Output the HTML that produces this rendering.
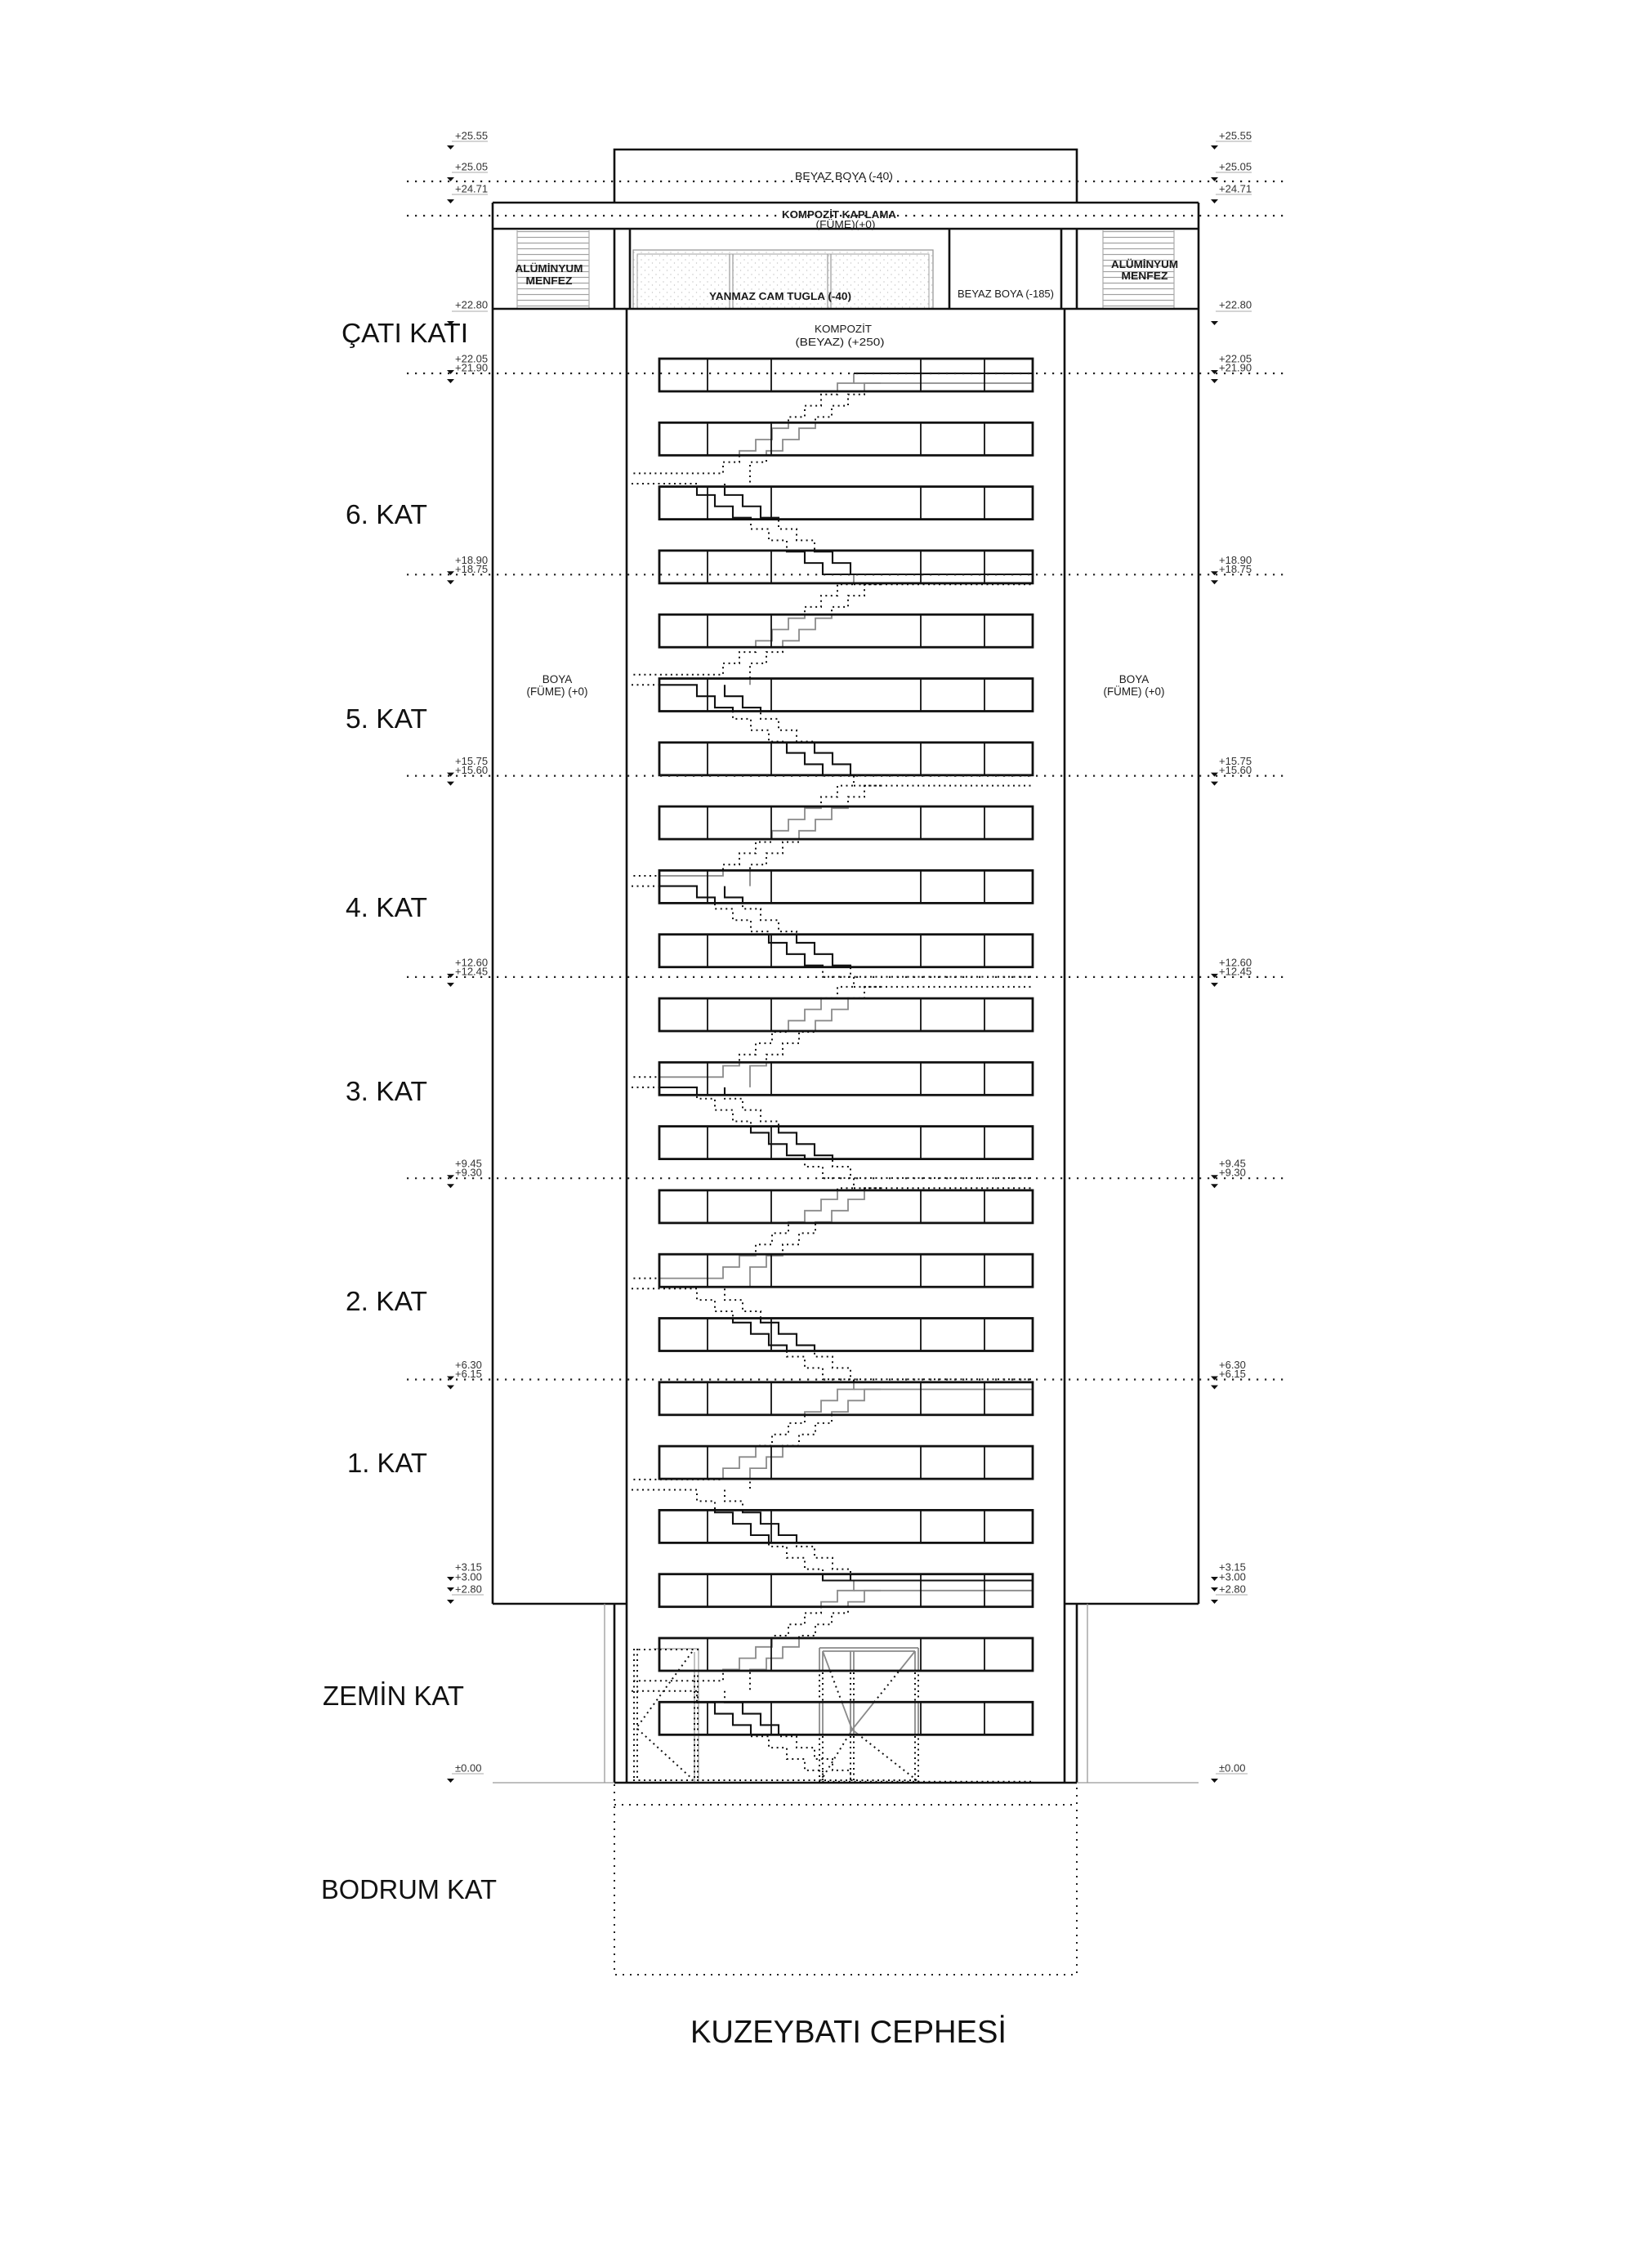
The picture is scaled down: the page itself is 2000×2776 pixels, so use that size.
<!DOCTYPE html>
<html><head><meta charset="utf-8"><style>html,body{margin:0;padding:0;background:#fff}svg{display:block}</style></head><body>
<svg xmlns="http://www.w3.org/2000/svg" xmlns:xlink="http://www.w3.org/1999/xlink" width="2000" height="2776" viewBox="0 0 2000 2776" font-family="'Liberation Sans', sans-serif">
<defs>
<pattern id="st" width="9" height="9" patternUnits="userSpaceOnUse"><circle cx="2" cy="3" r="0.7" fill="#c4c4c4"/><circle cx="6.5" cy="7" r="0.7" fill="#c4c4c4"/></pattern>
<pattern id="hl" width="10" height="7" patternUnits="userSpaceOnUse"><line x1="0" y1="3.5" x2="10" y2="3.5" stroke="#a0a0a0" stroke-width="1.2"/></pattern>
<rect id="wr" x="807" y="0" width="457" height="40"/>
<g id="wrs">
<use href="#wr" y="439"/><use href="#wr" y="517.3"/><use href="#wr" y="595.6"/><use href="#wr" y="673.9"/><use href="#wr" y="752.2"/><use href="#wr" y="830.5"/><use href="#wr" y="908.8"/><use href="#wr" y="987.1"/><use href="#wr" y="1065.4"/><use href="#wr" y="1143.7"/><use href="#wr" y="1222"/><use href="#wr" y="1300.3"/><use href="#wr" y="1378.6"/><use href="#wr" y="1456.9"/><use href="#wr" y="1535.2"/><use href="#wr" y="1613.5"/><use href="#wr" y="1691.8"/><use href="#wr" y="1770.1"/><use href="#wr" y="1848.4"/><use href="#wr" y="1926.7"/><use href="#wr" y="2005"/><use href="#wr" y="2083.3"/>
</g>
<mask id="mIn" maskUnits="userSpaceOnUse" x="0" y="0" width="2000" height="2776"><rect x="0" y="0" width="2000" height="2776" fill="#000"/><use href="#wrs" fill="#fff"/></mask>
<mask id="mOut" maskUnits="userSpaceOnUse" x="0" y="0" width="2000" height="2776"><rect x="0" y="0" width="2000" height="2776" fill="#000"/><rect x="769" y="379" width="532" height="1802" fill="#fff"/><use href="#wrs" fill="#000"/></mask>
<g id="win" fill="none" stroke="#111"><rect x="807" y="0" width="457" height="40" stroke-width="2.8"/><path d="M866 0V40M944 0V40M1127 0V40M1205 0V40" stroke-width="1.8"/></g>
<path id="pA" d="M1045 0V12h-20v13.8h-20v13.8h-20v13.8h-20v13.8h-20v13.8h-20v13.8h-20v13.8h-20v13.8H773"/>
<path id="pB" d="M1078 12h-20v13.8h-20v13.8h-20v13.8h-20v13.8h-20v13.8h-20v13.8h-20v13.8h-20v13.8V135"/>
<path id="pS" d="M1045 12H1264"/>
<path id="pC" d="M773 135H853v13.875h22v13.875h22v13.875h22v13.875h22v13.875h22v13.875h22v13.875h22v13.875h22H1264"/>
<path id="pD" d="M887 135v13.875h22v13.875h22v13.875h22v13.875h22v13.875h22v13.875h22v13.875h22v13.875"/>
<g id="flUp"><use href="#pA"/><use href="#pB"/><use href="#pS"/></g>
<g id="flLo"><use href="#pC"/><use href="#pD"/></g>
<path id="door" d="M1003 2017V2182M1007 2021V2182M1120 2021V2182M1124 2017V2182M1003 2017H1124M1007 2021H1120M1041 2021V2182M1045 2021V2182M1007 2021L1043 2117L1122 2179M1120 2021L1043 2117L1005 2179"/>
<g id="lbl" fill="#333" font-size="13">
<text x="557" y="170.5">+25.55</text>
<text x="557" y="208.5">+25.05</text>
<text x="557" y="235.5">+24.71</text>
<text x="557" y="377.5">+22.80</text>
<text x="557" y="443.5">+22.05</text><text x="557" y="454.5">+21.90</text>
<text x="557" y="689.8">+18.90</text><text x="557" y="700.8">+18.75</text>
<text x="557" y="936.1">+15.75</text><text x="557" y="947.1">+15.60</text>
<text x="557" y="1182.4">+12.60</text><text x="557" y="1193.4">+12.45</text>
<text x="557" y="1428.7">+9.45</text><text x="557" y="1439.7">+9.30</text>
<text x="557" y="1675">+6.30</text><text x="557" y="1686">+6.15</text>
<text x="557" y="1922.5">+3.15</text><text x="557" y="1934.5">+3.00</text><text x="557" y="1949.5">+2.80</text>
<text x="557" y="2168.5">±0.00</text>
<path fill="#111" d="M547 178h9l-4.5 5zM547 217h9l-4.5 5zM547 244h9l-4.5 5zM547 393h9l-4.5 5zM547 453h9l-4.5 5zM547 464h9l-4.5 5zM547 699.3h9l-4.5 5zM547 710.3h9l-4.5 5zM547 945.6h9l-4.5 5zM547 956.6h9l-4.5 5zM547 1191.9h9l-4.5 5zM547 1202.9h9l-4.5 5zM547 1438.2h9l-4.5 5zM547 1449.2h9l-4.5 5zM547 1684.5h9l-4.5 5zM547 1695.5h9l-4.5 5zM547 1930h9l-4.5 5zM547 1943h9l-4.5 5zM547 1958h9l-4.5 5zM547 2177h9l-4.5 5z"/>
<path fill="none" stroke="#aaa" stroke-width="1" d="M553 173H597M553 211H597M553 238H597M553 381H597M553 1952H592M553 2171H592"/>
</g>
</defs>
<rect width="2000" height="2776" fill="#fff"/>

<!-- roof details -->
<rect x="775" y="306" width="367" height="72" fill="url(#st)" stroke="#999" stroke-width="1.3"/>
<rect x="780" y="311" width="357" height="67" fill="none" stroke="#aaa" stroke-width="1.1"/>
<path d="M893 311V378M897 311V378M1013 311V378M1017 311V378" stroke="#999" stroke-width="1.2"/>
<rect x="633" y="282" width="88" height="96" fill="url(#hl)"/>
<rect x="1350" y="282" width="87" height="96" fill="url(#hl)"/>
<path d="M633 282V378M721 282V378M1350 282V378M1437 282V378" stroke="#aaa" stroke-width="1.2"/>

<!-- stairs solid inside windows -->
<g mask="url(#mIn)" fill="none">
<g stroke="#8a8a8a" stroke-width="1.8">
<use href="#flUp" y="457"/><use href="#flUp" y="703.3"/><use href="#flUp" y="949.6"/><use href="#flUp" y="1195.9"/><use href="#flUp" y="1442.2"/><use href="#flUp" y="1688.5"/><use href="#flUp" y="1934.8"/>
<use href="#door"/>
</g>
<g stroke="#111" stroke-width="2.1">
<use href="#flLo" y="457"/><use href="#flLo" y="703.3"/><use href="#flLo" y="949.6"/><use href="#flLo" y="1195.9"/><use href="#flLo" y="1442.2"/><use href="#flLo" y="1688.5"/><use href="#flLo" y="1934.8"/>
<path d="M1045 457H1264"/>
</g>
</g>
<!-- stairs dotted outside windows -->
<g mask="url(#mOut)" fill="none" stroke="#111" stroke-width="2" stroke-dasharray="2 4.5">
<use href="#flUp" y="457"/><use href="#flUp" y="703.3"/><use href="#flUp" y="949.6"/><use href="#flUp" y="1195.9"/><use href="#flUp" y="1442.2"/><use href="#flUp" y="1688.5"/><use href="#flUp" y="1934.8"/>
<use href="#flLo" y="457"/><use href="#flLo" y="703.3"/><use href="#flLo" y="949.6"/><use href="#flLo" y="1195.9"/><use href="#flLo" y="1442.2"/><use href="#flLo" y="1688.5"/><use href="#flLo" y="1934.8"/>
<use href="#door"/>
</g>
<!-- ground floor left stair well -->
<path d="M800 2018H855V2182M850 2022V2182" fill="none" stroke="#9a9a9a" stroke-width="1.2"/>
<g fill="none" stroke="#111" stroke-width="2" stroke-dasharray="2 4.5">
<path d="M776 2018V2180M780 2018V2180M850 2044V2180M854 2044V2180M775 2019H855M775 2179H1125"/>
<path d="M847 2022L779 2115L848 2178"/>
</g>

<!-- windows -->
<use href="#win" y="439"/><use href="#win" y="517.3"/><use href="#win" y="595.6"/><use href="#win" y="673.9"/><use href="#win" y="752.2"/><use href="#win" y="830.5"/><use href="#win" y="908.8"/><use href="#win" y="987.1"/><use href="#win" y="1065.4"/><use href="#win" y="1143.7"/><use href="#win" y="1222"/><use href="#win" y="1300.3"/><use href="#win" y="1378.6"/><use href="#win" y="1456.9"/><use href="#win" y="1535.2"/><use href="#win" y="1613.5"/><use href="#win" y="1691.8"/><use href="#win" y="1770.1"/><use href="#win" y="1848.4"/><use href="#win" y="1926.7"/><use href="#win" y="2005"/><use href="#win" y="2083.3"/>

<!-- building outlines -->
<path fill="none" stroke="#111" stroke-width="2.6" d="M752 248V183H1318V248M603 248H1467M603 280H1467M603 248V1963M1467 248V1963M603 378H1467M752 280V378M771 280V378M1162 280V378M1299 280V378M1318 280V378M767 378V2182M1303 378V2182M603 1963H767M1303 1963H1467M752 1963V2182M1318 1963V2182M752 2182H1318"/>
<path fill="none" stroke="#999" stroke-width="1.3" d="M740 1963V2182M1331 1963V2182M603 2182H752M1318 2182H1467"/>

<!-- basement dotted -->
<path fill="none" stroke="#222" stroke-width="2" stroke-dasharray="2 7" d="M752 2184V2417H1318V2184M752 2209H1318"/>

<!-- level dotted lines -->
<path fill="none" stroke="#222" stroke-width="2.2" stroke-dasharray="2.2 7.8" d="M498 222H1573M498 264H1573M498 457H1573M498 703.3H1573M498 949.6H1573M498 1195.9H1573M498 1442.2H1573M498 1688.5H1573"/>

<!-- level labels -->
<use href="#lbl"/>
<use href="#lbl" x="935"/>

<!-- roof texts -->
<g fill="#1a1a1a" font-size="13" text-anchor="middle">
<text x="1033" y="220" textLength="120" lengthAdjust="spacingAndGlyphs">BEYAZ BOYA (-40)</text>
<text x="1027" y="267" textLength="140" lengthAdjust="spacingAndGlyphs" font-weight="bold">KOMPOZİT KAPLAMA</text>
<text x="1035" y="279" textLength="73" lengthAdjust="spacingAndGlyphs">(FÜME)(+0)</text>
<text x="672" y="333" textLength="83" lengthAdjust="spacingAndGlyphs" font-weight="bold">ALÜMİNYUM</text>
<text x="672" y="348" textLength="57" lengthAdjust="spacingAndGlyphs" font-weight="bold">MENFEZ</text>
<text x="1401" y="328" textLength="82" lengthAdjust="spacingAndGlyphs" font-weight="bold">ALÜMİNYUM</text>
<text x="1401" y="342" textLength="57" lengthAdjust="spacingAndGlyphs" font-weight="bold">MENFEZ</text>
<text x="955" y="367" textLength="174" lengthAdjust="spacingAndGlyphs" font-weight="bold">YANMAZ CAM TUGLA (-40)</text>
<text x="1231" y="364" textLength="118" lengthAdjust="spacingAndGlyphs">BEYAZ BOYA (-185)</text>
<text x="1032" y="407" textLength="70" lengthAdjust="spacingAndGlyphs">KOMPOZİT</text>
<text x="1028" y="423" textLength="109" lengthAdjust="spacingAndGlyphs">(BEYAZ) (+250)</text>
<text x="682" y="836" font-size="13.5">BOYA</text>
<text x="682" y="851" font-size="13.5" textLength="75" lengthAdjust="spacingAndGlyphs">(FÜME) (+0)</text>
<text x="1388" y="836" font-size="13.5">BOYA</text>
<text x="1388" y="851" font-size="13.5" textLength="75" lengthAdjust="spacingAndGlyphs">(FÜME) (+0)</text>
</g>

<!-- floor labels -->
<g fill="#111" font-size="33">
<text x="418" y="419" textLength="155" lengthAdjust="spacingAndGlyphs">ÇATI KATI</text>
<text x="423" y="641" textLength="100" lengthAdjust="spacingAndGlyphs">6. KAT</text>
<text x="423" y="891" textLength="100" lengthAdjust="spacingAndGlyphs">5. KAT</text>
<text x="423" y="1122" textLength="100" lengthAdjust="spacingAndGlyphs">4. KAT</text>
<text x="423" y="1347" textLength="100" lengthAdjust="spacingAndGlyphs">3. KAT</text>
<text x="423" y="1604" textLength="100" lengthAdjust="spacingAndGlyphs">2. KAT</text>
<text x="425" y="1802" textLength="98" lengthAdjust="spacingAndGlyphs">1. KAT</text>
<text x="395" y="2087" textLength="173" lengthAdjust="spacingAndGlyphs">ZEMİN KAT</text>
<text x="393" y="2324" textLength="215" lengthAdjust="spacingAndGlyphs">BODRUM KAT</text>
<text x="845" y="2500" font-size="39" textLength="387" lengthAdjust="spacingAndGlyphs">KUZEYBATI CEPHESİ</text>
</g>
</svg>
</body></html>
